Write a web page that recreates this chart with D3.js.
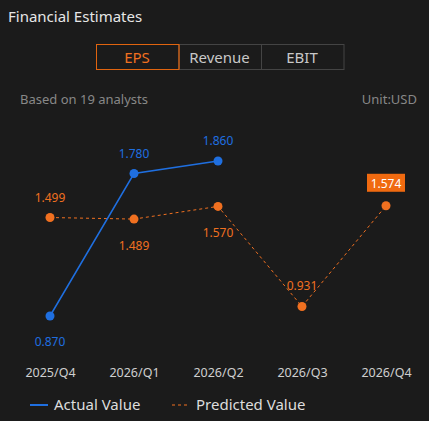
<!DOCTYPE html><html><head><meta charset="utf-8"><script src="https://cdn.jsdelivr.net/npm/d3@7"></script>
<style>body{margin:0;background:#1b1b1b;}svg{display:block;font-family:"Noto Sans","Open Sans",sans-serif;}</style></head><body><svg id="c" width="429" height="421"></svg>
<script>
const categories=["2025/Q4","2026/Q1","2026/Q2","2026/Q3","2026/Q4"];
const actual=[0.870,1.780,1.860,null,null];
const predicted=[1.499,1.489,1.570,0.931,1.574];
const predLabelPos=["above","below","below","above","box"];
const actLabelPos=["below","above","above",null,null];
const tabs=["EPS","Revenue","EBIT"];
const svg=d3.select("#c");
svg.append("rect").attr("width",429).attr("height",421).attr("fill","#1b1b1b");
svg.append("text").attr("x",8).attr("y",22).attr("fill","#e6e6e6").attr("font-size",15).text("Financial Estimates");
tabs.forEach((t,i)=>{const x=96+i*82.5;
 svg.append("rect").attr("x",x+0.5).attr("y",44.5).attr("width",82.5).attr("height",25).attr("fill","none").attr("stroke",i==0?"#e0640f":"#444");
 svg.append("text").attr("x",x+41).attr("y",62.5).attr("text-anchor","middle").attr("font-size",15).attr("fill",i==0?"#f07020":"#c8c8c8").text(t);});
svg.append("rect").attr("x",96.5).attr("y",44.5).attr("width",82.5).attr("height",25).attr("fill","none").attr("stroke","#e0640f");
svg.append("text").attr("x",20).attr("y",104).attr("fill","#888").attr("font-size",13).text("Based on 19 analysts");
svg.append("text").attr("x",417).attr("y",104).attr("text-anchor","end").attr("fill","#888").attr("font-size",13).text("Unit:USD");
const x=d3.scalePoint().domain(categories).range([50,386]);
const y=d3.scaleLinear().domain([0.87,1.86]).range([316,161]);
const ax=svg.append("g").attr("transform","translate(0,360)").call(d3.axisBottom(x).tickSize(0).tickPadding(8));
ax.select(".domain").remove();
ax.selectAll("text").attr("fill","#cfcfcf").attr("font-size",12.5).attr("font-family","Noto Sans, sans-serif");
const orange="#f07020",blue="#1f6fe0";
const pd=predicted.map((v,i)=>({c:categories[i],v,i}));
svg.append("path").datum(pd).attr("fill","none").attr("stroke",orange).attr("stroke-width",1).attr("stroke-dasharray","3,3")
 .attr("d",d3.line().x(d=>x(d.c)).y(d=>y(d.v)));
const ad=actual.map((v,i)=>({c:categories[i],v,i})).filter(d=>d.v!=null);
svg.append("path").datum(ad).attr("fill","none").attr("stroke",blue).attr("stroke-width",1.5)
 .attr("d",d3.line().x(d=>x(d.c)).y(d=>y(d.v)));
pd.forEach(d=>{svg.append("circle").attr("cx",x(d.c)).attr("cy",y(d.v)).attr("r",4.5).attr("fill",orange);
 const p=predLabelPos[d.i],lx=x(d.c),ly=y(d.v);
 if(p=="box"){svg.append("rect").attr("x",lx-19).attr("y",ly-32).attr("width",38).attr("height",18).attr("fill","#f06a10");
  svg.append("text").attr("x",lx).attr("y",ly-18).attr("text-anchor","middle").attr("fill","#fff").attr("font-size",12).text(d.v.toFixed(3));}
 else svg.append("text").attr("x",lx).attr("y",p=="above"?ly-16:ly+31).attr("text-anchor","middle").attr("fill",orange).attr("font-size",12).text(d.v.toFixed(3));});
ad.forEach(d=>{svg.append("circle").attr("cx",x(d.c)).attr("cy",y(d.v)).attr("r",4.5).attr("fill",blue);
 const p=actLabelPos[d.i],lx=x(d.c),ly=y(d.v);
 svg.append("text").attr("x",lx).attr("y",p=="above"?ly-16:ly+30).attr("text-anchor","middle").attr("fill",blue).attr("font-size",12).text(d.v.toFixed(3));});
svg.append("line").attr("x1",30).attr("x2",48).attr("y1",405).attr("y2",405).attr("stroke",blue).attr("stroke-width",2);
svg.append("text").attr("x",54).attr("y",410).attr("fill","#ddd").attr("font-size",15).text("Actual Value");
svg.append("line").attr("x1",172).attr("x2",190).attr("y1",405).attr("y2",405).attr("stroke",orange).attr("stroke-width",1).attr("stroke-dasharray","3,3");
svg.append("text").attr("x",196).attr("y",410).attr("fill","#ddd").attr("font-size",15).text("Predicted Value");
</script></body></html>
